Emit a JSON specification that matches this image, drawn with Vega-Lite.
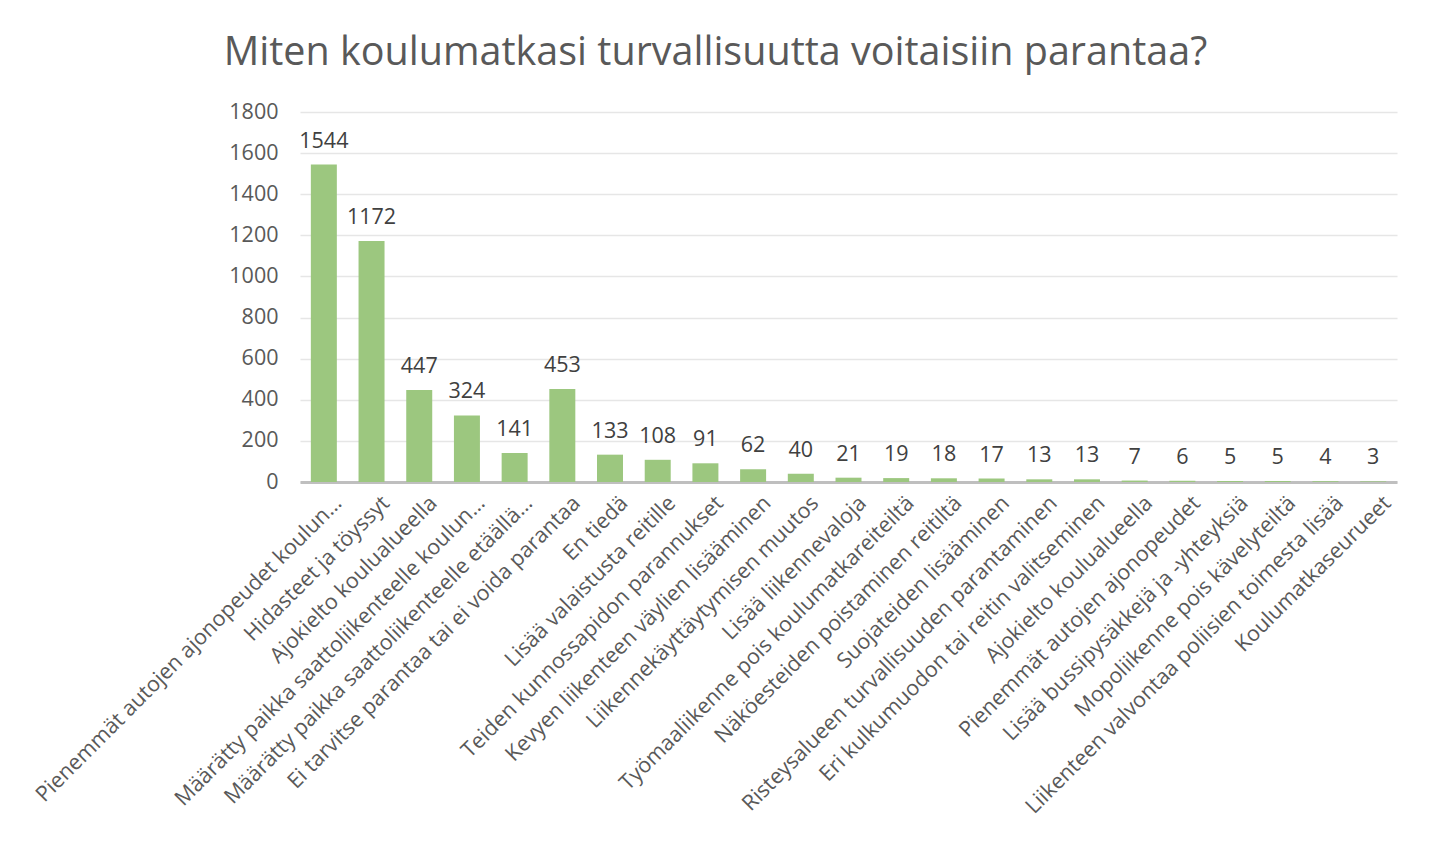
{
  "$schema": "https://vega.github.io/schema/vega-lite/v6.json",
  "autosize": "none",
  "width": 1097,
  "height": 370,
  "padding": {"left": 300, "top": 112, "right": 33, "bottom": 370},
  "background": "white",
  "title": {
    "text": "Miten koulumatkasi turvallisuutta voitaisiin parantaa?",
    "anchor": "middle",
    "dx": -133,
    "offset": 28,
    "fontSize": 39.5,
    "font": "Open Sans",
    "fontWeight": "normal",
    "color": "#595959"
  },
  "data": {
    "values": [
      {"nro": 1, "vaihtoehto": "Pienemmät autojen ajonopeudet koulun…", "vastaukset": 1544},
      {"nro": 2, "vaihtoehto": "Hidasteet ja töyssyt", "vastaukset": 1172},
      {"nro": 3, "vaihtoehto": "Ajokielto koulualueella", "vastaukset": 447},
      {"nro": 4, "vaihtoehto": "Määrätty paikka saattoliikenteelle koulun…", "vastaukset": 324},
      {"nro": 5, "vaihtoehto": "Määrätty paikka saattoliikenteelle etäällä…", "vastaukset": 141},
      {"nro": 6, "vaihtoehto": "Ei tarvitse parantaa tai ei voida parantaa", "vastaukset": 453},
      {"nro": 7, "vaihtoehto": "En tiedä", "vastaukset": 133},
      {"nro": 8, "vaihtoehto": "Lisää valaistusta reitille", "vastaukset": 108},
      {"nro": 9, "vaihtoehto": "Teiden kunnossapidon parannukset", "vastaukset": 91},
      {"nro": 10, "vaihtoehto": "Kevyen liikenteen väylien lisääminen", "vastaukset": 62},
      {"nro": 11, "vaihtoehto": "Liikennekäyttäytymisen muutos", "vastaukset": 40},
      {"nro": 12, "vaihtoehto": "Lisää liikennevaloja", "vastaukset": 21},
      {"nro": 13, "vaihtoehto": "Työmaaliikenne pois koulumatkareiteiltä", "vastaukset": 19},
      {"nro": 14, "vaihtoehto": "Näköesteiden poistaminen reitiltä", "vastaukset": 18},
      {"nro": 15, "vaihtoehto": "Suojateiden lisääminen", "vastaukset": 17},
      {"nro": 16, "vaihtoehto": "Risteysalueen turvallisuuden parantaminen", "vastaukset": 13},
      {"nro": 17, "vaihtoehto": "Eri kulkumuodon tai reitin valitseminen", "vastaukset": 13},
      {"nro": 18, "vaihtoehto": "Ajokielto koulualueella\u200b", "vastaukset": 7},
      {"nro": 19, "vaihtoehto": "Pienemmät autojen ajonopeudet", "vastaukset": 6},
      {"nro": 20, "vaihtoehto": "Lisää bussipysäkkejä ja -yhteyksiä", "vastaukset": 5},
      {"nro": 21, "vaihtoehto": "Mopoliikenne pois kävelyteiltä", "vastaukset": 5},
      {"nro": 22, "vaihtoehto": "Liikenteen valvontaa poliisien toimesta lisää", "vastaukset": 4},
      {"nro": 23, "vaihtoehto": "Koulumatkaseurueet", "vastaukset": 3}
    ]
  },
  "encoding": {
    "x": {
      "field": "vaihtoehto",
      "type": "nominal",
      "sort": {"field": "nro"},
      "scale": {"paddingInner": 0.455, "paddingOuter": 0.2275},
      "axis": {
        "title": null,
        "labelAngle": -45,
        "labelFont": "Open Sans",
        "labelFontSize": 21.5,
        "labelColor": "#595959",
        "labelPadding": 10,
        "labelOffset": 7,
        "labelLimit": 600,
        "ticks": false,
        "domainColor": "#bfbfbf",
        "domainWidth": 3,
        "grid": false
      }
    },
    "y": {
      "field": "vastaukset",
      "type": "quantitative",
      "scale": {"domain": [0, 1800], "nice": false},
      "axis": {
        "title": null,
        "format": "d",
        "values": [0, 200, 400, 600, 800, 1000, 1200, 1400, 1600, 1800],
        "labelFont": "Open Sans",
        "labelFontSize": 21.5,
        "labelColor": "#595959",
        "labelPadding": 22,
        "ticks": false,
        "domain": false,
        "gridColor": "#e6e6e6",
        "gridWidth": 1.5
      }
    }
  },
  "layer": [
    {"mark": {"type": "bar", "color": "#9cc77f"}},
    {
      "mark": {
        "type": "text",
        "baseline": "bottom",
        "dy": -12,
        "font": "Open Sans",
        "fontSize": 21.5,
        "color": "#404040"
      },
      "encoding": {"text": {"field": "vastaukset", "type": "quantitative"}}
    }
  ],
  "config": {"view": {"stroke": null}}
}
